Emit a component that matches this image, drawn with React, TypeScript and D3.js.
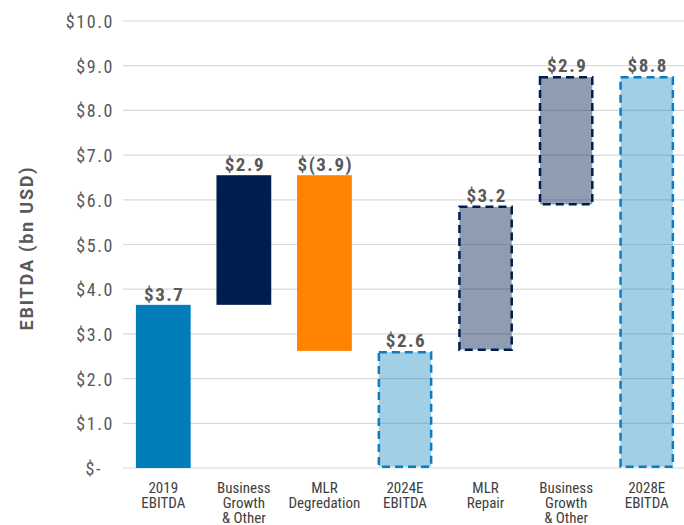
import React from "react";
import * as d3 from "d3";

const categoryIds = ["c2019", "bg1", "mlrd", "c2024", "mlrr", "bg2", "c2028"];
const categoryLines = [
  ["2019", "EBITDA"],
  ["Business", "Growth", "& Other"],
  ["MLR", "Degredation"],
  ["2024E", "EBITDA"],
  ["MLR", "Repair"],
  ["Business", "Growth", "& Other"],
  ["2028E", "EBITDA"],
];
const barStart = [0, 3.65, 2.62, 0, 2.62, 5.87, 0];
const barEnd = [3.65, 6.55, 6.55, 2.62, 5.87, 8.77, 8.77];
const valueLabels = ["$3.7", "$2.9", "$(3.9)", "$2.6", "$3.2", "$2.9", "$8.8"];
const barKind = ["solidBlue", "solidNavy", "solidOrange", "dashBlue", "dashNavy", "dashNavy", "dashBlue"];
const yTicks = [0, 1, 2, 3, 4, 5, 6, 7, 8, 9, 10];
const yTickLabels = ["$-", "$1.0", "$2.0", "$3.0", "$4.0", "$5.0", "$6.0", "$7.0", "$8.0", "$9.0", "$10.0"];

const W = 684;
const H = 525;
const FONT = "'Roboto Condensed', 'Liberation Sans Narrow', Roboto, sans-serif";

const styles: Record<string, { fill: string; stroke: string; dash: boolean }> = {
  solidBlue: { fill: "#007DBA", stroke: "none", dash: false },
  solidNavy: { fill: "#001E4D", stroke: "none", dash: false },
  solidOrange: { fill: "#FF8200", stroke: "none", dash: false },
  dashBlue: { fill: "rgba(0,125,186,0.37)", stroke: "#0A7DC0", dash: true },
  dashNavy: { fill: "rgba(0,30,77,0.44)", stroke: "#001E4D", dash: true },
};

export default function App() {
  const x = d3.scaleBand<string>().domain(categoryIds).range([123, 687]).paddingInner(0.32).paddingOuter(0.16);
  const y = d3.scaleLinear().domain([0, 10]).range([468, 21]);
  const bw = x.bandwidth();

  return (
    <svg width={W} height={H} style={{ position: "absolute", left: 0, top: 0, background: "#fff" }}>
      {yTicks.map((t, i) => (
        <g key={"t" + t}>
          <line x1={123} x2={684} y1={y(t)} y2={y(t)} stroke="#d9d9d9" strokeWidth={1.2} />
          <text
            x={t === 0 ? 102 : 114}
            y={y(t) + 7}
            textAnchor="end"
            fontFamily={FONT}
            fontSize={18}
            letterSpacing={1.6}
            fill="#595959"
          >
            {yTickLabels[i]}
          </text>
        </g>
      ))}
      {categoryIds.map((c, i) => {
        const s = styles[barKind[i]];
        const x0 = x(c)!;
        const top = y(Math.max(barStart[i], barEnd[i]));
        const bot = y(Math.min(barStart[i], barEnd[i]));
        const inset = s.dash ? 1.25 : 0;
        const cx = x0 + bw / 2;
        return (
          <g key={c}>
            <rect
              x={x0 + inset}
              y={top + inset}
              width={bw - 2 * inset}
              height={bot - top - 2 * inset}
              fill={s.fill}
              stroke={s.stroke}
              strokeWidth={s.dash ? 2.5 : 0}
              strokeDasharray={s.dash ? "8 5" : undefined}
            />
            <text
              x={cx + 1}
              y={top - 4}
              textAnchor="middle"
              fontFamily={FONT}
              fontWeight="bold"
              fontSize={19}
              letterSpacing={1.5}
              fill="#595959"
            >
              {valueLabels[i]}
            </text>
            <text
              x={cx}
              y={493}
              textAnchor="middle"
              fontFamily={FONT}
              fontSize={15}
              fill="#404040"
            >
              {categoryLines[i].map((ln, j) => (
                <tspan key={j} x={cx} dy={j === 0 ? 0 : 15}>
                  {ln}
                </tspan>
              ))}
            </text>
          </g>
        );
      })}
      <text
        transform={`translate(33,248) rotate(-90)`}
        textAnchor="middle"
        fontFamily="Roboto, 'Liberation Sans', sans-serif"
        fontWeight="bold"
        fontSize={18}
        letterSpacing={1.8}
        fill="#595959"
      >
        EBITDA (bn USD)
      </text>
    </svg>
  );
}
